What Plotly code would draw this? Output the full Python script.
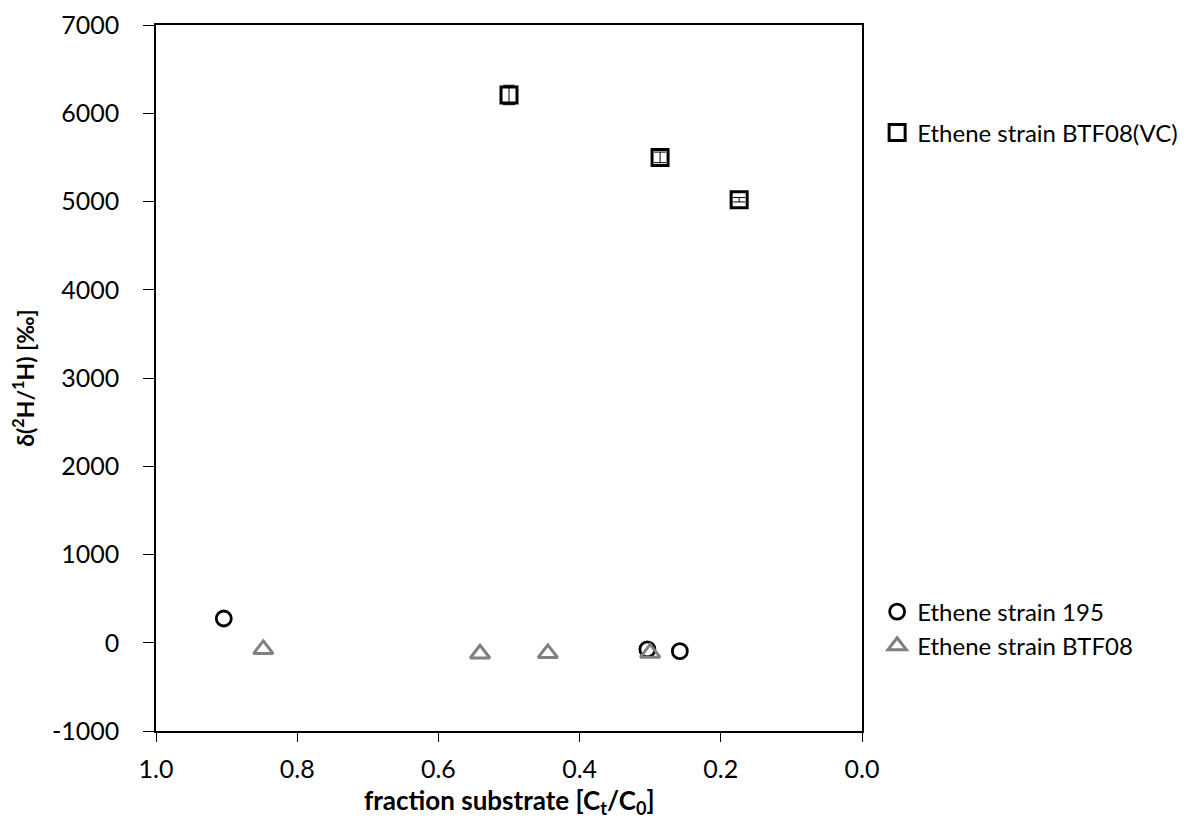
import plotly.graph_objects as go

# Data
vc_x = [0.500, 0.286, 0.174]
vc_y = [6207, 5500, 5020]
vc_err = [110, 60, 25]

s195_x = [0.904, 0.304, 0.258]
s195_y = [275, -75, -95]

btf_x = [0.848, 0.541, 0.445, 0.300]
btf_y = [-75, -125, -120, -115]

x_ticks = [1.0, 0.8, 0.6, 0.4, 0.2, 0.0]
x_labels = ["1.0", "0.8", "0.6", "0.4", "0.2", "0.0"]
y_ticks = [-1000, 0, 1000, 2000, 3000, 4000, 5000, 6000, 7000]
y_labels = ["-1000", "0", "1000", "2000", "3000", "4000", "5000", "6000", "7000"]

x_title = "<b>fraction substrate [C<sub>t</sub>/C<sub>0</sub>]</b>"
y_title = "<b>δ(<sup>2</sup>H/<sup>1</sup>H) [‰]</b>"

FONT = "Lato, Open Sans, sans-serif"

fig = go.Figure()
fig.add_trace(go.Scatter(
    x=vc_x, y=vc_y, mode="markers", name="Ethene strain BTF08(VC)",
    marker=dict(symbol="square-open", size=16, color="black", line=dict(width=3, color="black")),
    error_y=dict(type="data", array=vc_err, color="black", thickness=1, width=6),
    legend="legend",
))
fig.add_trace(go.Scatter(
    x=s195_x, y=s195_y, mode="markers", name="Ethene strain 195",
    marker=dict(symbol="circle-open", size=15, color="black", line=dict(width=2.8, color="black")),
    legend="legend2",
))
fig.add_trace(go.Scatter(
    x=btf_x, y=btf_y, mode="markers", name="Ethene strain BTF08",
    marker=dict(symbol="triangle-up-open", size=17, color="#808080", line=dict(width=3, color="#808080")),
    legend="legend2",
))

fig.update_layout(
    width=1186, height=819,
    margin=dict(l=148, r=331, t=17, b=96),
    paper_bgcolor="white", plot_bgcolor="white",
    font=dict(family=FONT, color="black", size=24),
    legend=dict(x=1.02, y=0.847, xanchor="left", yanchor="middle",
                font=dict(size=24, family=FONT), itemwidth=30, tracegroupgap=0,
                bgcolor="rgba(0,0,0,0)"),
    legend2=dict(x=1.02, y=0.1445, xanchor="left", yanchor="middle",
                 font=dict(size=24, family=FONT), itemwidth=30, tracegroupgap=0,
                 bgcolor="rgba(0,0,0,0)"),
    showlegend=True,
    annotations=[dict(
        text=x_title, xref="paper", yref="paper", x=0.5, y=-0.1,
        xanchor="center", yanchor="middle", showarrow=False,
        font=dict(size=26, family=FONT, color="black"),
    )],
)
fig.update_xaxes(
    range=[1.0, 0.0], tickvals=x_ticks, ticktext=x_labels, automargin=False,
    showgrid=False, zeroline=False, showline=True, linecolor="black", linewidth=1.5,
    mirror=True, ticks="outside", ticklen=9, tickcolor="black", tickwidth=1.2,
    tickfont=dict(size=25, family=FONT), ticklabelstandoff=6,
)
fig.update_yaxes(
    range=[-1000, 7000], tickvals=y_ticks, ticktext=y_labels, automargin=False,
    showgrid=False, zeroline=False, showline=True, linecolor="black", linewidth=1.5,
    mirror=True, ticks="outside", ticklen=11, tickcolor="black", tickwidth=1.2,
    tickfont=dict(size=25, family=FONT), ticklabelstandoff=19,
    title=dict(text=y_title, font=dict(size=23, family=FONT), standoff=28),
)

fig.write_html("out.html")
